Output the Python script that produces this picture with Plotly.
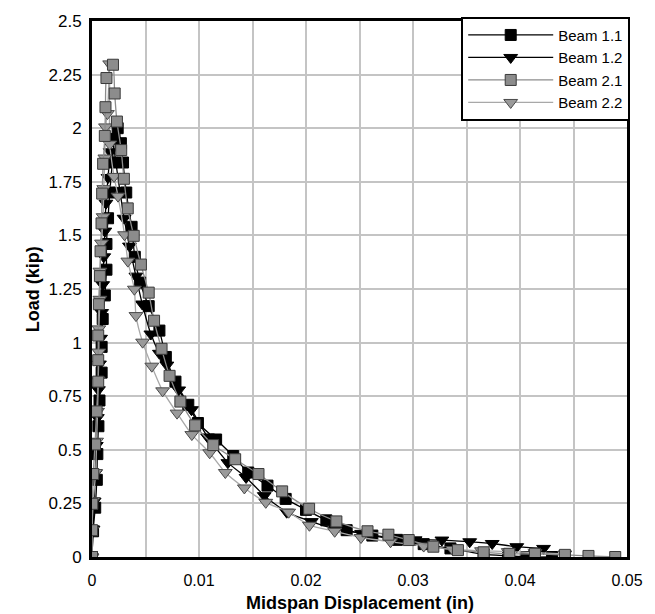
import plotly.graph_objects as go

# Beam 1.1 (black squares)
b11_x = [0, 0.0001, 0.0003, 0.00045, 0.0005, 0.0006, 0.0007, 0.0009, 0.0009, 0.001, 0.0012, 0.00135,
         0.00135, 0.0015, 0.00166, 0.0019, 0.0021, 0.0024, 0.0027, 0.0029, 0.0032, 0.0037, 0.0040, 0.0045,
         0.0053, 0.0063, 0.0069, 0.0078, 0.0090, 0.0099, 0.0116, 0.0132, 0.0146, 0.0164, 0.0181, 0.0200,
         0.0219, 0.0238, 0.0262, 0.0285, 0.0310, 0.0335, 0.0366, 0.0389, 0.0406, 0.0430]
b11_y = [0, 0.12, 0.23, 0.36, 0.48, 0.61, 0.73, 0.86, 0.98, 1.11, 1.22, 1.34,
         1.46, 1.58, 1.70, 1.84, 1.95, 2.00, 1.93, 1.84, 1.70, 1.54, 1.40, 1.28,
         1.17, 1.056, 0.933, 0.818, 0.71, 0.625, 0.548, 0.471, 0.394, 0.333, 0.271, 0.22,
         0.171, 0.125, 0.10, 0.08, 0.06, 0.04, 0.012, 0.005, 0.0, 0.0]

# Beam 1.2 (black triangles)
b12_x = [0, 0.0001, 0.0002, 0.0003, 0.0004, 0.0005, 0.0006, 0.0007, 0.0008, 0.0009, 0.001, 0.0011,
         0.0012, 0.0013, 0.0015, 0.0017, 0.0019, 0.0022, 0.0026, 0.0030, 0.0035, 0.0041, 0.0047, 0.0055,
         0.0063, 0.0070, 0.0081, 0.0093, 0.0108, 0.0127, 0.0144, 0.0161, 0.0182, 0.0205, 0.0228, 0.0252,
         0.0278, 0.0302, 0.0327, 0.0353, 0.0374, 0.0397, 0.0422]
b12_y = [0, 0.13, 0.26, 0.39, 0.52, 0.65, 0.78, 0.90, 1.02, 1.14, 1.27, 1.40,
         1.52, 1.65, 1.77, 1.89, 1.95, 1.85, 1.71, 1.58, 1.45, 1.31, 1.18, 1.04,
         0.95, 0.895, 0.779, 0.687, 0.56, 0.44, 0.371, 0.286, 0.209, 0.165, 0.13, 0.11,
         0.09, 0.08, 0.079, 0.071, 0.063, 0.048, 0.04]

# Beam 2.1 (gray squares)
b21_x = [0, 0, 0.00003, 0.00012, 0.00028, 0.00043, 0.00058, 0.00058, 0.00058, 0.00064, 0.00074, 0.0008,
         0.00089, 0.00095, 0.00104, 0.0012, 0.00126, 0.00135, 0.00196, 0.00212, 0.00233, 0.00273, 0.00298,
         0.00334, 0.0039, 0.00457, 0.0053, 0.0058, 0.0065, 0.00725, 0.00826, 0.00964, 0.01133, 0.01338,
         0.01556, 0.01777, 0.02029, 0.02284, 0.02575, 0.0277, 0.0296, 0.0319, 0.0342, 0.0366, 0.0390,
         0.0414, 0.0442, 0.0464, 0.0489]
b21_y = [0, 0.125, 0.248, 0.387, 0.525, 0.679, 0.818, 0.918, 1.033, 1.179, 1.31, 1.426,
         1.556, 1.695, 1.834, 1.964, 2.098, 2.234, 2.296, 2.162, 2.031, 1.898, 1.764,
         1.626, 1.498, 1.364, 1.233, 1.102, 0.971, 0.845, 0.725, 0.614, 0.522, 0.456,
         0.387, 0.306, 0.225, 0.166, 0.12, 0.104, 0.079, 0.048, 0.032, 0.022, 0.015,
         0.015, 0.01, 0.005, 0.0]

# Beam 2.2 (gray triangles)
b22_x = [0, 0, 0.00012, 0.00034, 0.00043, 0.00052, 0.00058, 0.00064, 0.00064, 0.00074, 0.00074, 0.00089,
         0.00104, 0.0011, 0.0012, 0.00126, 0.00144, 0.00165, 0.00166, 0.00206, 0.00243, 0.00304, 0.00335,
         0.00396, 0.00411, 0.00473, 0.00559, 0.0066, 0.00795, 0.00933, 0.011, 0.01246, 0.01424, 0.01624,
         0.01838, 0.02032, 0.02268, 0.02514, 0.0279, 0.031, 0.0337, 0.0364, 0.0389, 0.0414, 0.0442]
b22_y = [0, 0.125, 0.263, 0.394, 0.54, 0.679, 0.825, 0.956, 1.064, 1.202, 1.333, 1.464,
         1.587, 1.718, 1.861, 2.006, 2.068, 2.30, 1.926, 1.775, 1.683, 1.503, 1.38,
         1.249, 1.126, 1.002, 0.89, 0.775, 0.671, 0.571, 0.486, 0.394, 0.322, 0.255,
         0.209, 0.148, 0.12, 0.091, 0.071, 0.051, 0.035, 0.029, 0.025, 0.02, 0.014]

x_tickvals = [0, 0.005, 0.01, 0.015, 0.02, 0.025, 0.03, 0.035, 0.04, 0.045, 0.05]
x_ticktext = ["0", "", "0.01", "", "0.02", "", "0.03", "", "0.04", "", "0.05"]
y_tickvals = [0, 0.25, 0.5, 0.75, 1, 1.25, 1.5, 1.75, 2, 2.25, 2.5]
y_ticktext = ["0", "0.25", "0.5", "0.75", "1", "1.25", "1.5", "1.75", "2", "2.25", "2.5"]

fig = go.Figure()

def add(name, xs, ys, symbol, fill, edge, lcolor, rank):
    fig.add_trace(go.Scatter(
        x=xs, y=ys, name=name, mode="lines+markers",
        line=dict(color=lcolor, width=1.3, shape="spline", smoothing=0.6),
        marker=dict(symbol=symbol, size=11 if symbol == "square" else 12, color=fill,
                    line=dict(color=edge, width=1)),
        legendrank=rank,
    ))

add("Beam 1.1", b11_x, b11_y, "square", "#000000", "#000000", "#000000", 1)
add("Beam 1.2", b12_x, b12_y, "triangle-down", "#000000", "#000000", "#000000", 2)
add("Beam 2.2", b22_x, b22_y, "triangle-down", "#9a9a9a", "#4a4a4a", "#a8a8a8", 4)
add("Beam 2.1", b21_x, b21_y, "square", "#8c8c8c", "#3a3a3a", "#8c8c8c", 3)

fig.update_layout(
    width=655, height=614,
    margin=dict(l=92, r=20, t=16, b=57),
    paper_bgcolor="white", plot_bgcolor="white",
    font=dict(family="Liberation Sans, Arial, sans-serif", size=17, color="black"),
    showlegend=True,
    legend=dict(x=1.006, y=1.008, xanchor="right", yanchor="top", bgcolor="white",
                bordercolor="black", borderwidth=2, font=dict(size=15),
                itemwidth=85, tracegroupgap=0, traceorder="normal"),
    annotations=[
        dict(text="<b>Midspan Displacement (in)</b>", xref="paper", yref="paper",
             x=0.5, y=-0.085, xanchor="center", yanchor="middle", showarrow=False,
             font=dict(size=18, color="black")),
        dict(text="<b>Load (kip)</b>", xref="paper", yref="paper",
             x=-0.11, y=0.5, xanchor="center", yanchor="middle", showarrow=False,
             textangle=-90, font=dict(size=18, color="black")),
    ],
)
fig.update_xaxes(
    range=[0, 0.05], tickvals=x_tickvals, ticktext=x_ticktext,
    showgrid=True, gridcolor="#c4c4c4", gridwidth=2,
    showline=True, linecolor="black", linewidth=3, mirror=True,
    zeroline=False, ticks="outside", ticklen=7, tickcolor="rgba(0,0,0,0)",
    tickfont=dict(size=16),
)
fig.update_yaxes(
    range=[0, 2.5], tickvals=y_tickvals, ticktext=y_ticktext,
    showgrid=True, gridcolor="#c4c4c4", gridwidth=2,
    showline=True, linecolor="black", linewidth=3, mirror=True,
    zeroline=False, ticks="outside", ticklen=4, tickcolor="rgba(0,0,0,0)",
    tickfont=dict(size=17),
)

fig.write_html("out.html",
               config={"displayModeBar": False},
               post_script="document.documentElement.style.margin='0';"
                           "document.body.style.margin='0';"
                           "document.body.style.overflow='hidden';")
